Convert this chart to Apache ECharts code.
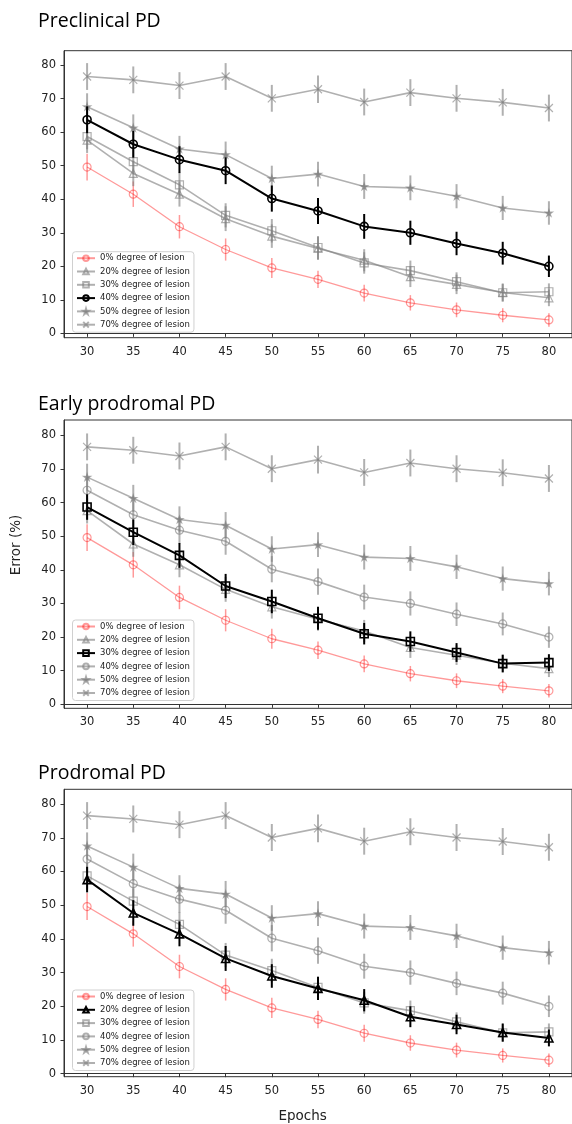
<!DOCTYPE html>
<html>
<head>
<meta charset="utf-8">
<script src="https://cdn.jsdelivr.net/npm/echarts@6/dist/echarts.min.js"></script>
<style>
html,body{margin:0;padding:0;background:#fff;}
#chart{width:572px;height:1124px;}
</style>
</head>
<body>
<div id="chart"></div>
<script>
// ---------- data ----------
const epochs = [30, 35, 40, 45, 50, 55, 60, 65, 70, 75, 80];
const xTicks = [30, 35, 40, 45, 50, 55, 60, 65, 70, 75, 80];
const yTicks = [0, 10, 20, 30, 40, 50, 60, 70, 80];
const panelTitles = ['Preclinical PD', 'Early prodromal PD', 'Prodromal PD'];
const highlighted = ['40%', '30%', '20%'];
const lesionLevels = ['0%', '20%', '30%', '40%', '50%', '70%'];

const err0  = [49.6, 41.5, 31.8, 25.0, 19.5, 16.1, 12.0, 9.1, 7.0, 5.4, 4.0];
const err20 = [57.6, 47.7, 41.5, 34.2, 29.0, 25.3, 21.8, 16.9, 14.6, 12.2, 10.6];
const err30 = [58.7, 51.2, 44.3, 35.2, 30.6, 25.6, 21.0, 18.7, 15.4, 12.1, 12.4];
const err40 = [63.7, 56.4, 51.8, 48.5, 40.2, 36.5, 31.9, 30.0, 26.8, 23.9, 20.0];
const err50 = [67.6, 61.3, 55.0, 53.3, 46.2, 47.5, 43.8, 43.4, 40.9, 37.4, 35.9];
const err70 = [76.6, 75.6, 73.9, 76.6, 70.1, 72.8, 69.0, 71.8, 70.1, 68.9, 67.2];

const sd0  = [4.0, 3.8, 3.5, 3.3, 3.0, 2.6, 2.5, 2.3, 2.2, 2.1, 2.0];
const sd20 = [3.8, 3.8, 3.7, 3.7, 3.5, 3.4, 3.3, 3.1, 2.9, 2.7, 2.5];
const sd30 = [3.8, 3.8, 3.7, 3.6, 3.5, 3.4, 3.2, 3.0, 2.8, 2.6, 2.5];
const sd40 = [4.0, 4.0, 4.0, 4.0, 3.9, 3.9, 3.7, 3.6, 3.5, 3.4, 3.2];
const sd50 = [4.0, 4.0, 3.9, 3.9, 3.8, 3.7, 3.7, 3.7, 3.6, 3.6, 3.5];
const sd70 = [4.0, 4.0, 4.0, 4.0, 4.0, 4.1, 4.0, 4.0, 4.0, 4.0, 4.0];

const meansByLevel = {'0%': err0, '20%': err20, '30%': err30, '40%': err40, '50%': err50, '70%': err70};
const sdByLevel = {'0%': sd0, '20%': sd20, '30%': sd30, '40%': sd40, '50%': sd50, '70%': sd70};

// ---------- style ----------
const STAR = 'path://M50,0L61,35L98,35L68,57L79,91L50,70L21,91L32,57L2,35L39,35Z';
const XMARK = 'path://M0,0L10,10M10,0L0,10';
const symbolFor = {'0%': 'circle', '20%': 'triangle', '30%': 'rect', '40%': 'circle', '50%': STAR, '70%': XMARK};
const sizeFor = {'0%': 8, '20%': 8, '30%': 8, '40%': 8, '50%': 7, '70%': 8};
const PINK = 'rgba(255,0,0,0.4)';
const GRAY = 'rgba(128,128,128,0.62)';
const BLACK = '#000';

const grids = [
  {left: 64, top: 50.7, width: 508, height: 287},
  {left: 64, top: 420, width: 508, height: 288.3},
  {left: 64, top: 789.3, width: 508, height: 287.4}
];
const yRanges = [[-1.3, 84.3], [-1.2, 84.6], [-0.9, 84.4]];
const legendTops = [251.7, 620, 990];
const titleYs = [24, 407, 776];

const option = {
  animation: false,
  backgroundColor: '#fff',
  grid: [],
  xAxis: [],
  yAxis: [],
  legend: [],
  series: [],
  graphic: []
};

for (let p = 0; p < 3; p++) {
  option.grid.push(Object.assign({show: true, borderColor: '#333', borderWidth: 1, backgroundColor: 'transparent'}, grids[p]));
  option.xAxis.push({
    type: 'value', gridIndex: p, min: 27.5, max: 82.5,
    axisLine: {show: true, lineStyle: {color: '#333', width: 1}},
    axisTick: {show: true, length: 3.5, lineStyle: {color: '#333'}, customValues: xTicks},
    axisLabel: {show: true, margin: 8, fontFamily: 'DejaVu Sans', fontSize: 11.5, color: '#222', customValues: xTicks},
    splitLine: {show: false}
  });
  option.yAxis.push({
    type: 'value', gridIndex: p, min: yRanges[p][0], max: yRanges[p][1],
    axisLine: {show: true, lineStyle: {color: '#333', width: 1}},
    axisTick: {show: true, length: 3.5, lineStyle: {color: '#333'}, customValues: yTicks},
    axisLabel: {show: true, margin: 8, fontFamily: 'DejaVu Sans', fontSize: 11.5, color: '#222', customValues: yTicks},
    splitLine: {show: false}
  });

  const legendNames = [];
  lesionLevels.forEach(function (lv) {
    const isHi = lv === highlighted[p];
    const col = lv === '0%' ? PINK : (isHi ? BLACK : GRAY);
    const lw = lv === '0%' ? 1.3 : (isHi ? 2 : 1.6);
    const name = 'P' + p + '|' + lv + ' degree of lesion';
    legendNames.push(name);
    const sym = symbolFor[lv];
    const filled = (lv === '50%');
    option.series.push({
      type: 'line', name: name, xAxisIndex: p, yAxisIndex: p,
      data: epochs.map(function (e, i) { return [e, meansByLevel[lv][i]]; }),
      symbol: sym, symbolSize: sizeFor[lv], symbolKeepAspect: true, showSymbol: true,
      lineStyle: {color: col, width: lw},
      itemStyle: {color: filled ? col : 'rgba(0,0,0,0)', borderColor: col, borderWidth: isHi ? 1.6 : 1.2},
      z: isHi ? 5 : 3,
      silent: true
    });
    option.series.push({
      type: 'custom', name: 'err' + p + lv, xAxisIndex: p, yAxisIndex: p,
      data: epochs.map(function (e, i) { return [e, meansByLevel[lv][i] - sdByLevel[lv][i], meansByLevel[lv][i] + sdByLevel[lv][i]]; }),
      encode: {x: 0, y: [1, 2]},
      z: isHi ? 4 : 2,
      silent: true,
      renderItem: function (params, api) {
        const a = api.coord([api.value(0), api.value(1)]);
        const b = api.coord([api.value(0), api.value(2)]);
        return {type: 'line', shape: {x1: a[0], y1: a[1], x2: b[0], y2: b[1]},
                style: {stroke: col, lineWidth: isHi ? 2 : (lv === '0%' ? 1.5 : 2)}};
      }
    });
  });

  option.legend.push({
    data: legendNames,
    orient: 'vertical', left: 72.5, top: legendTops[p],
    padding: [2, 4, 3, 3.5],
    itemWidth: 18, itemHeight: 7, itemGap: 4.3,
    backgroundColor: 'rgba(255,255,255,0.85)', borderColor: '#d0d0d0', borderWidth: 1, borderRadius: 3,
    textStyle: {fontFamily: 'DejaVu Sans', fontSize: 8.5, color: '#222'},
    formatter: function (n) { return n.split('|')[1]; },
    selectedMode: false
  });

  option.graphic.push({
    type: 'text', left: 38, top: titleYs[p] - 13,
    style: {text: panelTitles[p], font: '19.5px "Open Sans"', fill: '#000'}
  });
}

option.graphic.push({
  type: 'text', x: 16, y: 545, rotation: Math.PI / 2,
  style: {text: 'Error (%)', font: '13.5px "DejaVu Sans"', fill: '#222', align: 'center', verticalAlign: 'middle'}
});
option.graphic.push({
  type: 'text', x: 302.7, y: 1116,
  style: {text: 'Epochs', font: '13.5px "DejaVu Sans"', fill: '#222', align: 'center', verticalAlign: 'middle'}
});

const chart = echarts.init(document.getElementById('chart'), null, {renderer: 'canvas'});
chart.setOption(option);
</script>
</body>
</html>
